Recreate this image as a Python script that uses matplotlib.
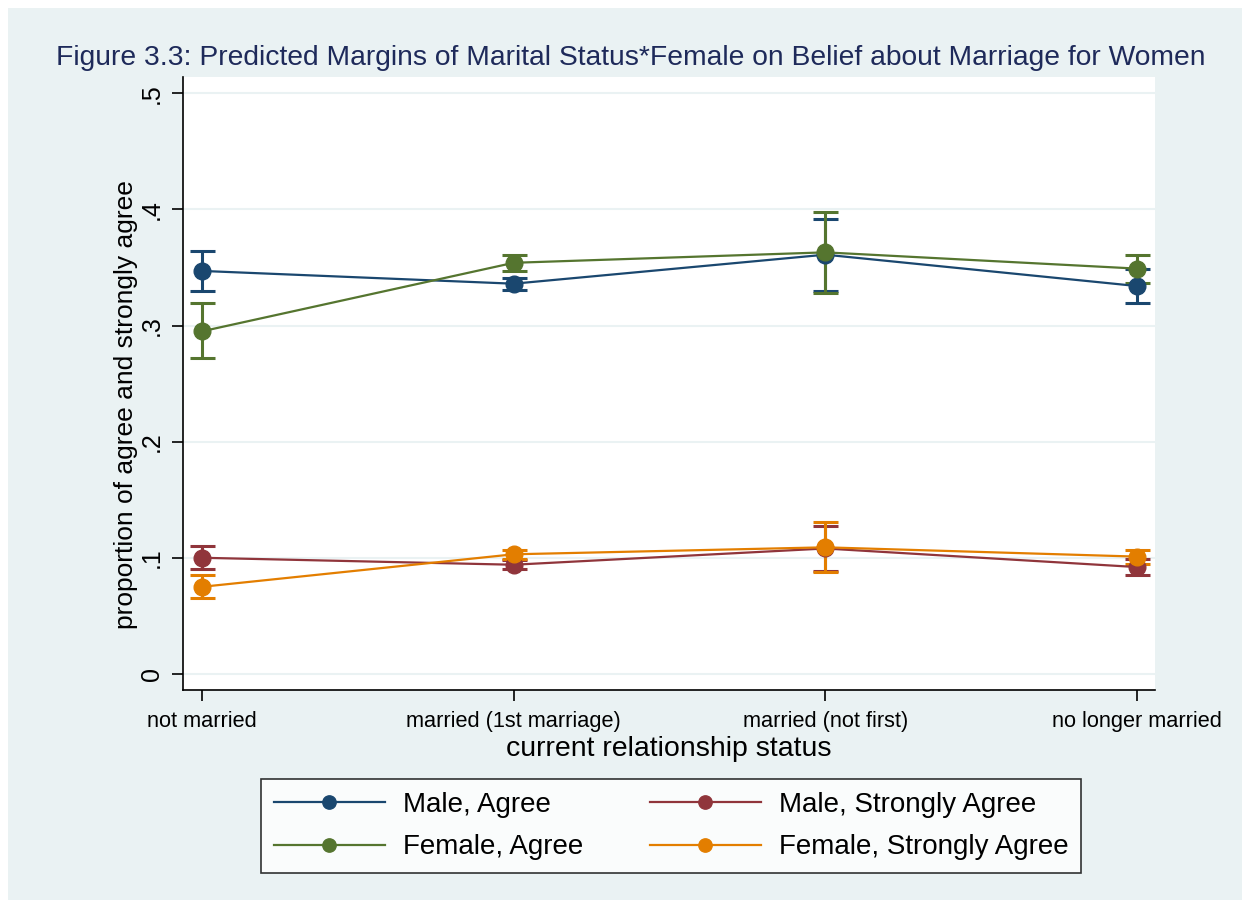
import numpy as np
import matplotlib
matplotlib.use("Agg")
import matplotlib.pyplot as plt
from matplotlib.patches import Rectangle

plt.rcParams["font.family"] = ["Liberation Sans", "DejaVu Sans"]

# Catégories de l'axe x
statuts = ["not married", "married (1st marriage)", "married (not first)", "no longer married"]

# Marges prédites et intervalles
male_agree = [0.347, 0.336, 0.361, 0.334]
male_agree_lo = [0.330, 0.331, 0.330, 0.319]
male_agree_hi = [0.364, 0.341, 0.392, 0.349]

female_agree = [0.295, 0.354, 0.363, 0.349]
female_agree_lo = [0.272, 0.347, 0.328, 0.337]
female_agree_hi = [0.319, 0.361, 0.398, 0.361]

male_strong = [0.100, 0.094, 0.108, 0.092]
male_strong_lo = [0.090, 0.090, 0.089, 0.085]
male_strong_hi = [0.110, 0.098, 0.127, 0.099]

female_strong = [0.075, 0.103, 0.109, 0.101]
female_strong_lo = [0.065, 0.099, 0.088, 0.095]
female_strong_hi = [0.085, 0.107, 0.131, 0.107]

series = [
    ("Male, Agree", male_agree, male_agree_lo, male_agree_hi, "#1a476f"),
    ("Male, Strongly Agree", male_strong, male_strong_lo, male_strong_hi, "#90353b"),
    ("Female, Agree", female_agree, female_agree_lo, female_agree_hi, "#55752f"),
    ("Female, Strongly Agree", female_strong, female_strong_lo, female_strong_hi, "#e37e00"),
]

BG = "#eaf2f3"

fig = plt.figure(figsize=(12.5, 9.09), dpi=100)
fig.patch.set_facecolor("white")
fig.patches.append(Rectangle((8 / 1250, 9 / 909), 1234 / 1250, 892 / 909,
                             transform=fig.transFigure, facecolor=BG,
                             edgecolor="none", zorder=-10))

ax = fig.add_axes([0.1464, 0.241, 0.9240 - 0.1464, 0.9153 - 0.241])
ax.set_facecolor("white")

x = np.arange(len(statuts))
handles = {}
for label, vals, lo, hi, col in series:
    vals = np.array(vals)
    err = [vals - np.array(lo), np.array(hi) - vals]
    ax.errorbar(x, vals, yerr=err, fmt="none", ecolor=col, elinewidth=2.2,
                capsize=9, capthick=2.2, zorder=3)
    h, = ax.plot(x, vals, color=col, linewidth=1.6, marker="o",
                 markersize=12, zorder=4, label=label)
    handles[label] = h

ax.set_xlim(-0.061, 3.058)
ax.set_ylim(-0.0138, 0.514)
ax.set_yticks([0, 0.1, 0.2, 0.3, 0.4, 0.5])
ax.set_yticklabels(["0", ".1", ".2", ".3", ".4", ".5"], rotation=90,
                   va="center", fontsize=18)
ax.set_xticks(x)
ax.set_xticklabels(statuts, fontsize=15.7)
ax.grid(axis="y", color=BG, linewidth=1.5)
ax.set_axisbelow(True)
for s in ["top", "right"]:
    ax.spines[s].set_visible(False)
for s in ["left", "bottom"]:
    ax.spines[s].set_linewidth(1.2)
ax.tick_params(axis="both", length=8, width=1.2, color="black")
ax.tick_params(axis="y", pad=6)
ax.tick_params(axis="x", pad=7)

ax.set_xlabel("current relationship status", fontsize=20.5, labelpad=3)
ax.set_ylabel("proportion of agree and strongly agree", fontsize=19)
ax.yaxis.set_label_coords(-0.046, 0.465)

fig.text(0.505, 0.936, "Figure 3.3: Predicted Margins of Marital Status*Female on Belief about Marriage for Women",
         ha="center", va="center", fontsize=20.3, color="#1e2a5a")

order = ["Male, Agree", "Female, Agree", "Male, Strongly Agree", "Female, Strongly Agree"]
leg = fig.legend([handles[k] for k in order], order, ncol=2,
                 loc="center", bbox_to_anchor=(0.5368, 0.0913), fontsize=20,
                 frameon=True, fancybox=False, edgecolor="black",
                 handlelength=4.0, handletextpad=0.65, columnspacing=2.4,
                 borderpad=0.45, labelspacing=0.6, markerscale=0.8)
leg.get_frame().set_linewidth(1.2)

fig.savefig("out.png", dpi=100, facecolor=fig.get_facecolor())
